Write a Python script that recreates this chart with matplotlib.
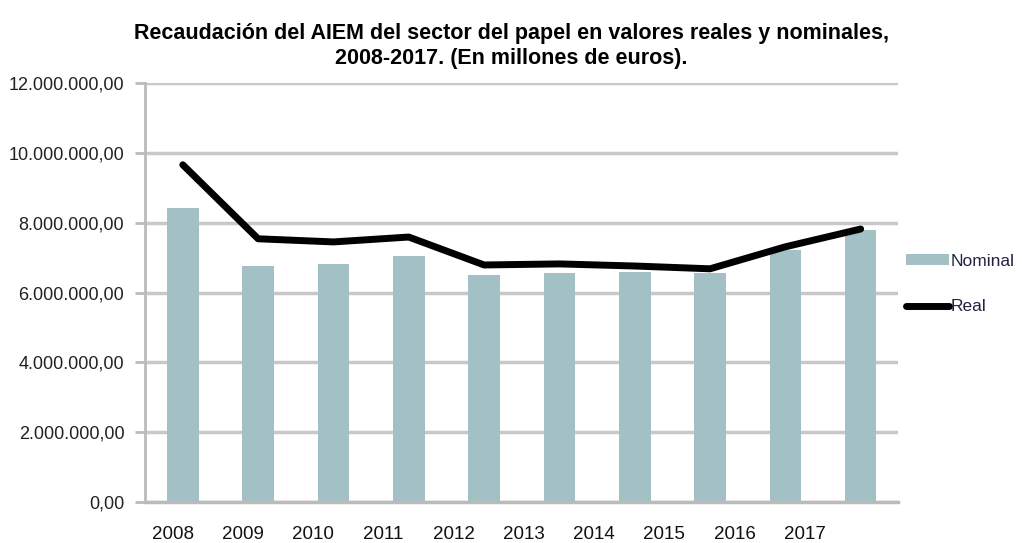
import matplotlib
matplotlib.use("Agg")
import matplotlib.pyplot as plt
import numpy as np

#Data
years = ["2008", "2009", "2010", "2011", "2012", "2013", "2014", "2015", "2016", "2017"]
nominal = [8.42e6, 6.76e6, 6.82e6, 7.05e6, 6.50e6, 6.56e6, 6.59e6, 6.56e6, 7.22e6, 7.79e6]
real = [9.66e6, 7.54e6, 7.45e6, 7.59e6, 6.79e6, 6.82e6, 6.76e6, 6.68e6, 7.31e6, 7.82e6]
yticks = [0, 2e6, 4e6, 6e6, 8e6, 10e6, 12e6]

def fmt(v):
    s = "{:,.2f}".format(v)
    return s.replace(",", "X").replace(".", ",").replace("X", ".")

plt.rcParams['font.family'] = ['Liberation Sans', 'DejaVu Sans']

fig = plt.figure(figsize=(10.22, 5.43), dpi=100)
ax = fig.add_axes([0.142, 0.0755, 0.737, 0.7715])

x = np.arange(len(years))
bars = ax.bar(x, nominal, width=0.42, color="#a3c0c5", label="Nominal", zorder=2)
line, = ax.plot(x, real, color="black", lw=5, solid_capstyle="round", solid_joinstyle="round",
                label="Real", zorder=3)

ax.set_xlim(-0.5, len(years) - 0.5)
ax.set_ylim(0, 12e6)
ax.set_yticks(yticks)
ax.set_yticklabels([fmt(v) for v in yticks], fontsize=13, color="#222222")

#the year labels in the original drift left of the bars
ax.set_xticks(-0.13 + 0.932 * x)
ax.set_xticklabels(years, fontsize=13.5, color="#111111")
ax.tick_params(axis="x", length=0, pad=17)
ax.tick_params(axis="y", length=7, width=2, color="#bbbbbb", pad=8)

ax.grid(axis="y", color="#c8c8c8", lw=2.5, zorder=0)
for s in ["top", "right"]:
    ax.spines[s].set_visible(False)
ax.spines["left"].set_color("#bbbbbb")
ax.spines["left"].set_linewidth(2)
ax.spines["bottom"].set_color("#bbbbbb")
ax.spines["bottom"].set_linewidth(2.5)

fig.text(0.5, 0.915, "Recaudación del AIEM del sector del papel en valores reales y nominales,\n2008-2017. (En millones de euros).",
         ha="center", va="center", fontsize=15.5, fontweight="bold", linespacing=1.25)

leg = ax.legend([bars, line], ["Nominal", "Real"], loc="center left",
                bbox_to_anchor=(1.01, 0.52), frameon=False, borderpad=0, borderaxespad=0,
                fontsize=12.5, handlelength=2.5, handleheight=0.6, handletextpad=0.1,
                labelspacing=1.75)
for t in leg.get_texts():
    t.set_color("#222244")

fig.savefig("out.png", dpi=100)
